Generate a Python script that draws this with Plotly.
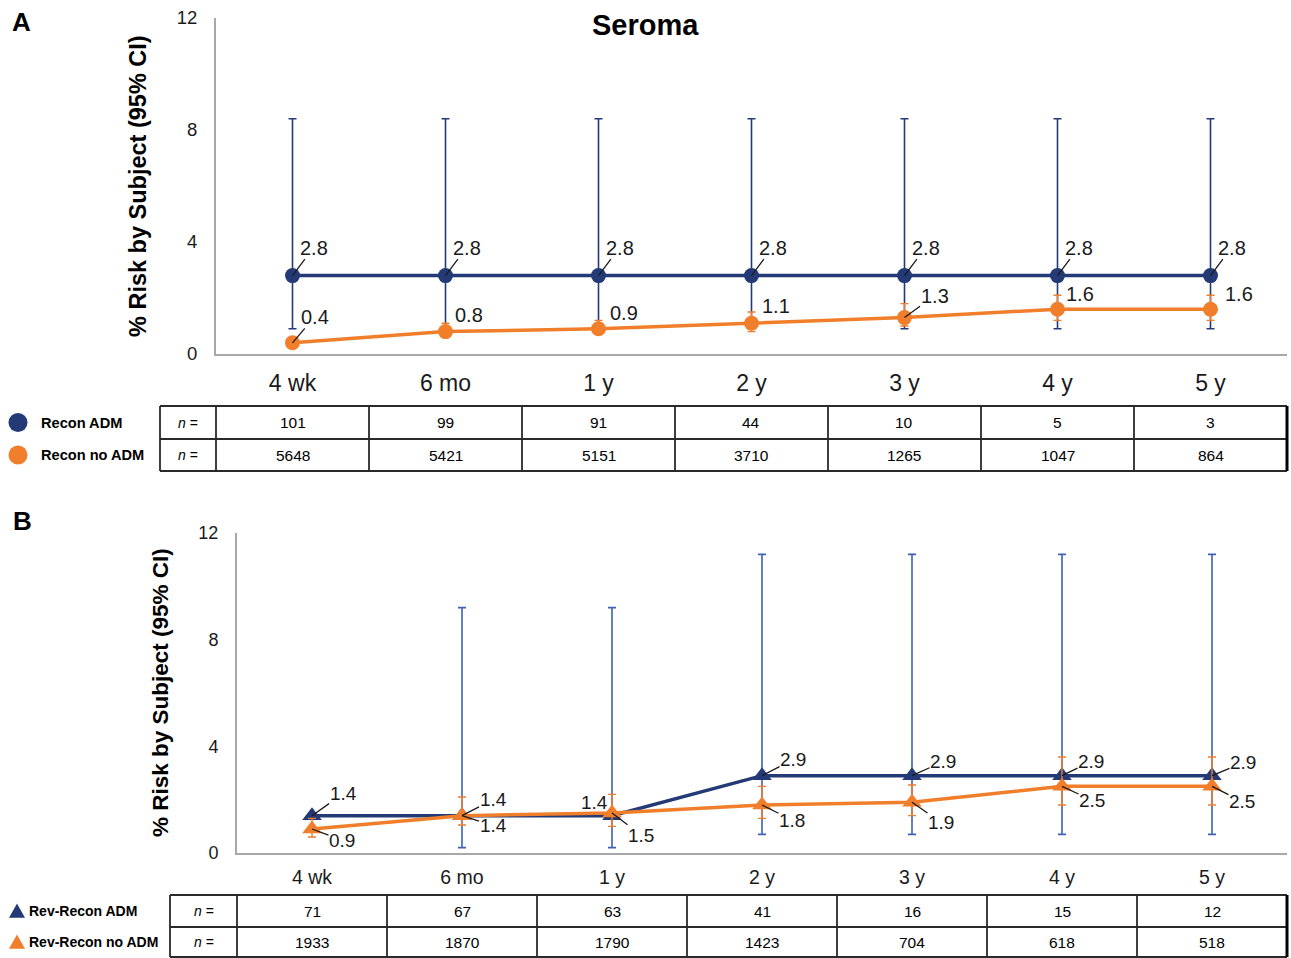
import plotly.graph_objects as go

W, H = 1291, 958

categories = ["4 wk", "6 mo", "1 y", "2 y", "3 y", "4 y", "5 y"]

# Panel A (Seroma, Recon)
a_adm = [2.8, 2.8, 2.8, 2.8, 2.8, 2.8, 2.8]
a_adm_lo = [0.9, 0.9, 0.9, 0.9, 0.9, 0.9, 0.9]
a_adm_hi = [8.4, 8.4, 8.4, 8.4, 8.4, 8.4, 8.4]
a_noadm = [0.4, 0.8, 0.9, 1.1, 1.3, 1.6, 1.6]
a_noadm_lo = [0.3, 0.6, 0.7, 0.8, 1.0, 1.2, 1.2]
a_noadm_hi = [0.5, 1.1, 1.2, 1.5, 1.8, 2.1, 2.1]
a_n_adm = [101, 99, 91, 44, 10, 5, 3]
a_n_noadm = [5648, 5421, 5151, 3710, 1265, 1047, 864]

# Panel B (Rev-Recon)
b_adm = [1.4, 1.4, 1.4, 2.9, 2.9, 2.9, 2.9]
b_adm_lo = [1.4, 0.2, 0.2, 0.7, 0.7, 0.7, 0.7]
b_adm_hi = [1.4, 9.2, 9.2, 11.2, 11.2, 11.2, 11.2]
b_noadm = [0.9, 1.4, 1.5, 1.8, 1.9, 2.5, 2.5]
b_noadm_lo = [0.6, 1.05, 1.0, 1.3, 1.4, 1.8, 1.8]
b_noadm_hi = [1.3, 2.1, 2.2, 2.5, 2.55, 3.6, 3.6]
b_n_adm = [71, 67, 63, 41, 16, 15, 12]
b_n_noadm = [1933, 1870, 1790, 1423, 704, 618, 518]

NAVY = "#233a76"
ORANGE = "#f07e2b"
BLUE_EB = "#3d62b3"
AXC = "#a8a8a8"
TXT = "#1a1a1a"
FONT = "Liberation Sans, Arial, sans-serif"


def px(x):
    return x / W


def py(y):
    return 1 - y / H


# layout geometry (pixels)
A_X0, A_X1, A_Y0, A_Y1 = 216, 1287, 354, 18
B_X0, B_X1, B_Y0, B_Y1 = 237, 1287, 853, 533


def errs(v, lo, hi):
    return [h - x for x, h in zip(v, hi)], [x - l for x, l in zip(v, lo)]


fig = go.Figure()

p, m = errs(a_adm, a_adm_lo, a_adm_hi)
fig.add_trace(go.Scatter(x=categories, y=a_adm, mode="lines+markers", name="Recon ADM",
                         line=dict(color=NAVY, width=3.5), marker=dict(size=15, color=NAVY),
                         error_y=dict(type="data", array=p, arrayminus=m, color=NAVY, thickness=1.6, width=4),
                         xaxis="x", yaxis="y"))
p, m = errs(a_noadm, a_noadm_lo, a_noadm_hi)
fig.add_trace(go.Scatter(x=categories, y=a_noadm, mode="lines+markers", name="Recon no ADM",
                         line=dict(color=ORANGE, width=3.5), marker=dict(size=15, color=ORANGE),
                         error_y=dict(type="data", array=p, arrayminus=m, color=ORANGE, thickness=1.4, width=4),
                         xaxis="x", yaxis="y"))
p, m = errs(b_adm, b_adm_lo, b_adm_hi)
fig.add_trace(go.Scatter(x=categories, y=b_adm, mode="lines+markers", name="Rev-Recon ADM",
                         line=dict(color=NAVY, width=3.5), marker=dict(size=17, color=NAVY, symbol="triangle-up"),
                         error_y=dict(type="data", array=p, arrayminus=m, color=BLUE_EB, thickness=1.6, width=4),
                         xaxis="x2", yaxis="y2"))
p, m = errs(b_noadm, b_noadm_lo, b_noadm_hi)
fig.add_trace(go.Scatter(x=categories, y=b_noadm, mode="lines+markers", name="Rev-Recon no ADM",
                         line=dict(color=ORANGE, width=3.5), marker=dict(size=17, color=ORANGE, symbol="triangle-up"),
                         error_y=dict(type="data", array=p, arrayminus=m, color=ORANGE, thickness=1.4, width=4),
                         xaxis="x2", yaxis="y2"))

ann = []
shapes = []

# data labels (offsets in px: dx, dy, leader line shown?)
a_adm_off = [(21, -28, True)] * 7
a_noadm_off = [(22, -26, True), (23, -17, False), (25, -16, False), (24, -17, False),
               (30, -22, True), (22, -15, False), (28, -15, False)]
b_adm_off = [(31, -22, True), (31, -16, True), (-18, -13, False), (31, -16, True),
             (31, -14, True), (29, -14, True), (31, -13, True)]
b_noadm_off = [(30, 11, True), (31, 10, True), (29, 22, True), (30, 15, True),
               (29, 20, True), (30, 14, True), (30, 15, True)]


def add_labels(vals, offs, xa, ya, size):
    for c, v, (dx, dy, lead) in zip(categories, vals, offs):
        ann.append(dict(x=c, y=v, xref=xa, yref=ya, text=f"{v:.1f}", showarrow=True,
                        ax=dx, ay=dy, arrowhead=0, arrowwidth=1.3,
                        arrowcolor=TXT if lead else "rgba(0,0,0,0)",
                        font=dict(family=FONT, size=size, color=TXT), borderpad=0))


add_labels(a_adm, a_adm_off, "x", "y", 20)
add_labels(a_noadm, a_noadm_off, "x", "y", 20)
add_labels(b_adm, b_adm_off, "x2", "y2", 19)
add_labels(b_noadm, b_noadm_off, "x2", "y2", 19)


def pann(x, y, text, size, color="#000", xanchor="center", angle=0):
    ann.append(dict(x=px(x), y=py(y), xref="paper", yref="paper", text=text, showarrow=False,
                    xanchor=xanchor, yanchor="middle", textangle=angle,
                    font=dict(family=FONT, size=size, color=color)))


# titles / panel letters
pann(645, 25, "<b>Seroma</b>", 29)
pann(21, 22, "<b>A</b>", 26)
pann(22, 521, "<b>B</b>", 26)
pann(138, 186, "<b>% Risk by Subject (95% CI)</b>", 23.5, angle=-90)
pann(160, 693, "<b>% Risk by Subject (95% CI)</b>", 22.5, angle=-90)


def table(x_left, x_n, x0, x1, y_top, y_mid, y_bot, row_labels, label_x, label_size,
          nvals, sym, sym_x, sym_size):
    lc = "#2a2a2a"
    colw = (x1 - x0) / len(categories)
    for yy in (y_top, y_mid, y_bot):
        shapes.append(dict(type="line", xref="paper", yref="paper", x0=px(x_left), x1=px(x1),
                           y0=py(yy), y1=py(yy), line=dict(color=lc, width=1.8)))
    xs = [x_left, x_n] + [x0 + colw * (i + 1) for i in range(len(categories) - 1)]
    for xx in xs:
        shapes.append(dict(type="line", xref="paper", yref="paper", x0=px(xx), x1=px(xx),
                           y0=py(y_top), y1=py(y_bot), line=dict(color=lc, width=1.8)))
    shapes.append(dict(type="line", xref="paper", yref="paper", x0=px(x1), x1=px(x1),
                       y0=py(y_top), y1=py(y_bot), line=dict(color="#000", width=3)))
    rows_y = [(y_top + y_mid) / 2, (y_mid + y_bot) / 2]
    for r, (lab, vals, col) in enumerate(zip(row_labels, nvals, (NAVY, ORANGE))):
        ry = rows_y[r]
        pann(label_x, ry, f"<b>{lab}</b>", label_size, xanchor="left")
        pann((x_left + x_n) / 2, ry, "<i>n</i> =", 14)
        for i, v in enumerate(vals):
            pann(x0 + colw * (i + 0.5), ry, str(v), 15.5)
        s = sym_size / 2
        if sym == "circle":
            shapes.append(dict(type="circle", xref="paper", yref="paper",
                               x0=px(sym_x - s), x1=px(sym_x + s), y0=py(ry - s), y1=py(ry + s),
                               fillcolor=col, line=dict(width=0)))
        else:
            path = (f"M {px(sym_x - s)} {py(ry + s * 0.85)} L {px(sym_x + s)} {py(ry + s * 0.85)} "
                    f"L {px(sym_x)} {py(ry - s * 0.95)} Z")
            shapes.append(dict(type="path", xref="paper", yref="paper", path=path,
                               fillcolor=col, line=dict(width=0)))


table(160, 216, A_X0, A_X1, 406, 439, 471, ["Recon ADM", "Recon no ADM"], 39, 14.6,
      [a_n_adm, a_n_noadm], "circle", 18, 19)
table(170, 237, B_X0, B_X1, 895, 927, 957, ["Rev-Recon ADM", "Rev-Recon no ADM"], 27, 14,
      [b_n_adm, b_n_noadm], "triangle", 17, 16)

axis_common = dict(showline=True, linecolor=AXC, linewidth=2, showgrid=False, zeroline=False,
                   ticks="", automargin=False)

fig.update_layout(
    width=W, height=H, margin=dict(l=0, r=0, t=0, b=0, pad=0, autoexpand=False),
    paper_bgcolor="white", plot_bgcolor="white", showlegend=False,
    font=dict(family=FONT, color=TXT),
    xaxis=dict(domain=[px(A_X0), px(A_X1)], anchor="y", type="category", range=[-0.5, 6.5],
               tickfont=dict(size=23, color=TXT), ticklabelstandoff=7, **axis_common),
    yaxis=dict(domain=[py(A_Y0), py(A_Y1)], anchor="x", range=[0, 12], tickvals=[0, 4, 8, 12],
               tickfont=dict(size=18.5, color=TXT), ticklabelstandoff=13, **axis_common),
    xaxis2=dict(domain=[px(B_X0), px(B_X1)], anchor="y2", type="category", range=[-0.5, 6.5],
                tickfont=dict(size=19.5, color=TXT), ticklabelstandoff=6, **axis_common),
    yaxis2=dict(domain=[py(B_Y0), py(B_Y1)], anchor="x2", range=[0, 12], tickvals=[0, 4, 8, 12],
                tickfont=dict(size=18, color=TXT), ticklabelstandoff=13, **axis_common),
    annotations=ann, shapes=shapes,
)

fig.write_html("out.html", config={"displayModeBar": False},
               post_script="document.body.style.margin='0px';document.body.style.padding='0px';")
